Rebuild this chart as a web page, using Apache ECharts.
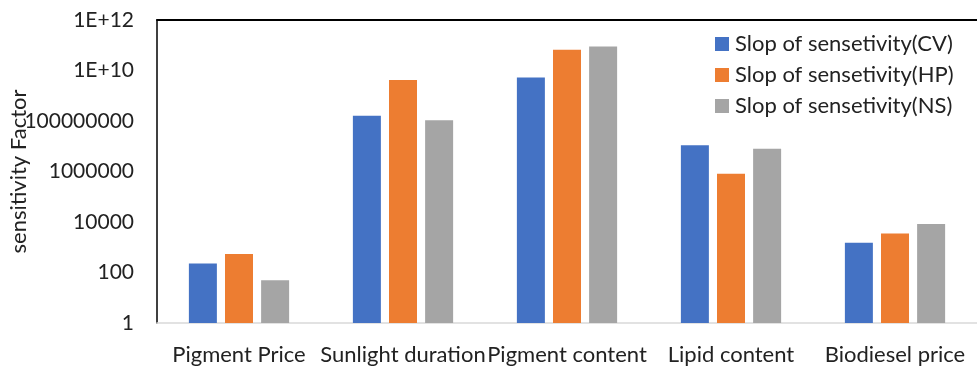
<!DOCTYPE html>
<html>
<head>
<meta charset="utf-8">
<script src="https://cdn.jsdelivr.net/npm/echarts@6/dist/echarts.min.js"></script>
<style>
  html, body { margin: 0; padding: 0; background: #fff; }
  #chart { width: 977px; height: 366px; }
</style>
</head>
<body>
<div id="chart"></div>
<script>
// Sensitivity factors per parameter, log scale
const categories = ['Pigment Price', 'Sunlight duration', 'Pigment content', 'Lipid content', 'Biodiesel price'];
const seriesNames = ['Slop of sensetivity(CV)', 'Slop of sensetivity(HP)', 'Slop of sensetivity(NS)'];
const slopeCV = [225, 1.6e8, 5.3e9, 1.1e7, 1500];
const slopeHP = [540, 4.2e9, 6.6e10, 8.2e5, 3500];
const slopeNS = [49, 1.07e8, 8.9e10, 8.0e6, 8300];
const yTicks = [1, 100, 10000, 1000000, 100000000, 1e10, 1e12];

const colors = ['#4472c4', '#ed7d31', '#a5a5a5'];
const font = 'Lato, "Liberation Sans", sans-serif';

function tickLabel(v) {
  const e = Math.round(Math.log10(v));
  return e >= 10 ? '1E+' + e : String(Math.round(v));
}

const chart = echarts.init(document.getElementById('chart'), null, { renderer: 'canvas' });
const values = [slopeCV, slopeHP, slopeNS];

chart.setOption({
  animation: false,
  color: colors,
  textStyle: { fontFamily: font },
  grid: { left: 157, right: 0, top: 20, bottom: 43, containLabel: false, outerBoundsMode: 'none' },
  legend: {
    orient: 'vertical',
    left: 710,
    top: 28,
    itemWidth: 14,
    itemHeight: 14,
    itemGap: 9,
    icon: 'rect',
    textStyle: { fontSize: 22, color: '#222', fontFamily: font, padding: [0, 0, 0, 1] },
    data: seriesNames
  },
  xAxis: [{
    type: 'category',
    data: categories,
    axisLine: { lineStyle: { color: '#d9d9d9', width: 1.5 } },
    axisTick: { show: false },
    axisLabel: { fontSize: 22, color: '#222', margin: 21, fontFamily: font, interval: 0 }
  }, {
    type: 'category',
    position: 'top',
    data: categories,
    axisLine: { lineStyle: { color: '#000', width: 2 } },
    axisTick: { show: false },
    axisLabel: { show: false }
  }],
  yAxis: {
    type: 'log',
    logBase: 100,
    min: yTicks[0],
    max: yTicks[yTicks.length - 1],
    name: 'sensitivity Factor',
    nameLocation: 'middle',
    nameGap: 127,
    nameMoveOverlap: false,
    nameTextStyle: { fontSize: 22, color: '#222', fontFamily: font },
    axisLine: { show: true, lineStyle: { color: '#000', width: 1.5 } },
    axisTick: { show: false },
    splitLine: { show: false },
    axisLabel: { fontSize: 21, color: '#222', margin: 23, fontFamily: font, formatter: tickLabel }
  },
  series: seriesNames.map((name, i) => ({
    name: name,
    type: 'bar',
    data: values[i],
    barWidth: 28,
    barGap: '29%',
    itemStyle: { color: colors[i] }
  }))
});
</script>
</body>
</html>
